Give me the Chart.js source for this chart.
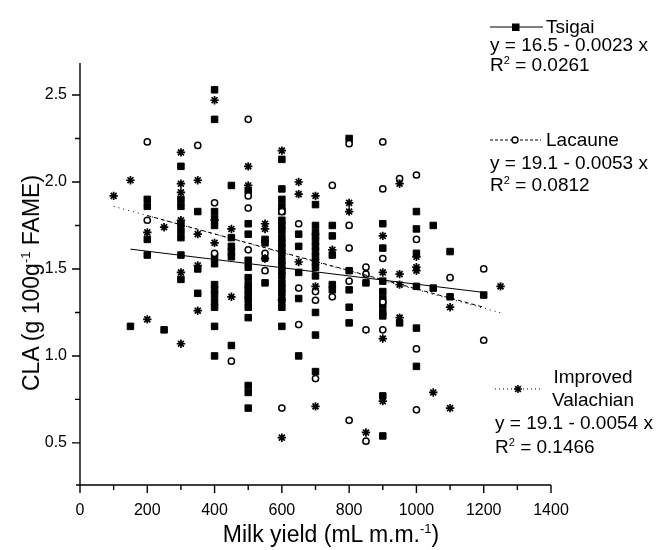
<!DOCTYPE html>
<html>
<head>
<meta charset="utf-8">
<script src="https://cdn.jsdelivr.net/npm/chart.js@4.4.0/dist/chart.umd.min.js"></script>
<style>
  body { margin: 0; background: #fff; }
  #wrap { position: relative; width: 657px; height: 550px; font-family: "Liberation Sans", Arial, sans-serif; color: #000; }
  #c { position: absolute; left: 0; top: 0; }
  .lg { position: absolute; font-size: 19px; line-height: 20px; white-space: nowrap; }
  .lg sup { font-size: 11px; vertical-align: 0; position: relative; top: -7px; }
  .ttl { position: absolute; font-size: 23px; line-height: 26px; white-space: nowrap; transform: translate(-50%, -50%); }
  .ttl sup { font-size: 13px; vertical-align: 0; position: relative; top: -9px; }
  #ytitle { transform: translate(-50%, -50%) rotate(-90deg); }
</style>
</head>
<body>
<div id="wrap">
  <canvas id="c" width="657" height="550"></canvas>
  <div class="ttl" style="left:331px;top:536px">Milk yield (mL m.m.<sup>-1</sup>)</div>
  <div class="ttl" id="ytitle" style="left:33px;top:283px">CLA (g 100g<sup>-1</sup> FAME)</div>
  <div class="lg" style="left:546px;top:17px">Tsigai</div>
  <div class="lg" style="left:490px;top:35px">y = 16.5 - 0.0023 x</div>
  <div class="lg" style="left:490px;top:55px">R<sup>2</sup> = 0.0261</div>
  <div class="lg" style="left:546px;top:130px">Lacaune</div>
  <div class="lg" style="left:490px;top:153px">y = 19.1 - 0.0053 x</div>
  <div class="lg" style="left:490px;top:175px">R<sup>2</sup> = 0.0812</div>
  <div class="lg" style="left:551px;top:367px;width:84px;text-align:center">Improved</div>
  <div class="lg" style="left:551px;top:390px;width:84px;text-align:center">Valachian</div>
  <div class="lg" style="left:495px;top:413px">y = 19.1 - 0.0054 x</div>
  <div class="lg" style="left:495px;top:437px">R<sup>2</sup> = 0.1466</div>
</div>
<script>
// points [milk yield, CLA]
const tsigai = [
  [150,1.17],
  [200,1.90],[200,1.86],[200,1.67],[200,1.58],
  [250,1.15],
  [300,2.09],[300,1.90],[300,1.86],[300,1.76],[300,1.72],[300,1.68],[300,1.58],[300,1.44],
  [350,1.83],[350,1.50],[350,1.36],
  [400,2.53],[400,2.36],[400,1.83],[400,1.79],[400,1.75],[400,1.57],[400,1.53],[400,1.41],[400,1.38],[400,1.35],[400,1.31],[400,1.28],[400,1.17],[400,1.00],
  [450,1.98],[450,1.68],[450,1.63],[450,1.60],[450,1.57],[450,1.06],
  [500,1.95],[500,1.76],[500,1.70],[500,1.55],[500,1.51],[500,1.45],[500,1.41],[500,1.38],[500,1.35],[500,1.32],[500,1.28],[500,1.22],[500,0.83],[500,0.79],[500,0.70],
  [550,1.67],[550,1.65],[550,1.42],
  [600,2.13],[600,1.96],[600,1.90],[600,1.86],[600,1.83],[600,1.78],[600,1.75],[600,1.72],[600,1.68],[600,1.65],[600,1.62],[600,1.59],[600,1.55],[600,1.52],[600,1.49],[600,1.46],[600,1.42],[600,1.39],[600,1.36],[600,1.32],[600,1.28],[600,1.17],
  [650,1.70],[650,1.63],[650,1.48],[650,1.33],[650,1.00],
  [700,1.87],[700,1.75],[700,1.71],[700,1.69],[700,1.66],[700,1.63],[700,1.60],[700,1.57],[700,1.54],[700,1.51],[700,1.46],[700,1.25],[700,1.12],[700,0.91],
  [750,1.75],[750,1.69],[750,1.58],[750,1.41],[750,1.38],
  [800,2.25],[800,1.49],[800,1.38],[800,1.28],[800,1.19],
  [850,1.42],
  [900,1.76],[900,1.62],[900,1.43],[900,1.37],[900,1.33],[900,1.29],[900,1.25],[900,1.23],[900,0.77],[900,0.54],
  [950,1.19],
  [1000,1.83],[1000,1.73],[1000,1.59],[1000,1.40],[1000,1.16],[1000,0.94],
  [1050,1.75],[1050,1.39],
  [1100,1.60],[1100,1.34],
  [1200,1.35]
];
const lacaune = [
  [200,2.23],[200,1.78],
  [350,2.21],
  [400,1.88],[400,1.59],
  [450,0.97],
  [500,2.36],[500,1.92],[500,1.85],[500,1.61],
  [550,1.59],[550,1.56],[550,1.49],
  [600,1.83],[600,0.70],
  [650,1.76],[650,1.39],[650,1.18],
  [700,1.37],[700,1.32],[700,0.87],
  [750,1.98],[750,1.34],
  [800,2.22],[800,1.75],[800,1.62],[800,1.43],[800,0.63],
  [850,1.51],[850,1.47],[850,1.15],[850,0.51],
  [900,2.23],[900,1.96],[900,1.56],[900,1.31],[900,1.15],
  [950,2.02],
  [1000,2.04],[1000,1.67],[1000,1.04],[1000,0.69],
  [1100,1.45],
  [1200,1.50],[1200,1.09]
];
const valachian = [
  [100,1.92],
  [150,2.01],
  [200,1.71],[200,1.21],
  [250,1.74],
  [300,2.17],[300,1.99],[300,1.94],[300,1.78],[300,1.48],[300,1.07],
  [350,2.01],[350,1.70],[350,1.52],[350,1.26],
  [400,2.47],[400,1.78],[400,1.65],
  [450,1.73],[450,1.34],
  [500,2.09],[500,1.98],
  [550,1.76],[550,1.73],[550,1.56],
  [600,2.18],[600,1.32],[600,0.53],
  [650,2.00],[650,1.93],[650,1.54],
  [700,1.92],[700,1.40],[700,0.71],
  [750,1.61],
  [800,1.88],[800,1.83],
  [850,0.56],
  [900,1.69],[900,1.48],[900,1.10],[900,0.74],
  [950,1.99],[950,1.47],[950,1.41],[950,1.22],
  [1000,1.57],[1000,1.51],[1000,1.49],
  [1050,0.79],
  [1100,1.28],[1100,0.70],
  [1250,1.40]
];
// fitted lines, ends
const tsigaiFit = [[150,1.614],[1200,1.365]];
const lacauneFit = [[200,1.807],[1200,1.280]];
const valachianFit = [[100,1.860],[1250,1.248]];

const xMinorTicks = [0,100,200,300,400,500,600,700,800,900,1000,1100,1200,1300,1400];
const yMinorTicks = [0.5,0.75,1.0,1.25,1.5,1.75,2.0,2.25,2.5];

function pts(arr) {
  return arr.map(function(p) { return {x: p[0], y: p[1]}; });
}

Chart.defaults.font.family = '"Liberation Sans", Arial, sans-serif';
Chart.defaults.color = '#000';

// axis lines, tick marks and the legend keys
const extras = {
  id: 'extras',
  afterDraw(chart) {
    const ctx = chart.ctx, a = chart.chartArea;
    const xs = chart.scales.x, ys = chart.scales.y;
    ctx.save();
    ctx.strokeStyle = '#000';
    ctx.lineWidth = 1.4;
    ctx.beginPath();
    ctx.moveTo(a.left - 4, a.bottom); ctx.lineTo(a.right, a.bottom);
    ctx.moveTo(a.left, a.top); ctx.lineTo(a.left, a.bottom);
    xMinorTicks.forEach(function(v) {
      const px = xs.getPixelForValue(v);
      const len = v % 200 === 0 ? 8 : 5;
      ctx.moveTo(px, a.bottom); ctx.lineTo(px, a.bottom + len);
    });
    yMinorTicks.forEach(function(v) {
      const py = ys.getPixelForValue(v);
      const len = Math.abs(v * 2 - Math.round(v * 2)) < 1e-6 ? 8 : 5;
      ctx.moveTo(a.left - len, py); ctx.lineTo(a.left, py);
    });
    ctx.stroke();

    // legend keys
    ctx.lineWidth = 1;
    ctx.beginPath();
    ctx.moveTo(490, 27); ctx.lineTo(543, 27);
    ctx.stroke();
    ctx.fillStyle = '#000';
    ctx.fillRect(512, 23.5, 7.5, 7.5);

    ctx.setLineDash([3, 2]);
    ctx.beginPath();
    ctx.moveTo(490, 140); ctx.lineTo(541, 140);
    ctx.stroke();
    ctx.setLineDash([]);
    ctx.fillStyle = '#fff';
    ctx.lineWidth = 1.4;
    ctx.beginPath();
    ctx.arc(515, 140, 3, 0, Math.PI * 2);
    ctx.fill(); ctx.stroke();

    ctx.lineWidth = 1;
    ctx.setLineDash([1, 3]);
    ctx.beginPath();
    ctx.moveTo(495, 389); ctx.lineTo(540, 389);
    ctx.stroke();
    ctx.setLineDash([]);
    ctx.lineWidth = 1.6;
    ctx.beginPath();
    for (let k = 0; k < 4; k++) {
      const ang = k * Math.PI / 4;
      ctx.moveTo(518 - 4 * Math.cos(ang), 389 - 4 * Math.sin(ang));
      ctx.lineTo(518 + 4 * Math.cos(ang), 389 + 4 * Math.sin(ang));
    }
    ctx.stroke();
    ctx.restore();
  }
};

new Chart(document.getElementById('c'), {
  type: 'scatter',
  data: {
    datasets: [
      { data: pts(tsigaiFit), showLine: true, pointRadius: 0, borderColor: '#000', borderWidth: 1, order: 0 },
      { data: pts(lacauneFit), showLine: true, pointRadius: 0, borderColor: '#000', borderWidth: 1, borderDash: [4, 3], order: 0 },
      { data: pts(valachianFit), showLine: true, pointRadius: 0, borderColor: '#000', borderWidth: 1, borderDash: [1, 4], order: 0 },
      { label: 'Improved Valachian', data: pts(valachian), pointStyle: 'star', pointRadius: 4.2, borderColor: '#000', borderWidth: 1.7, order: 1 },
      { label: 'Lacaune', data: pts(lacaune), pointStyle: 'circle', pointRadius: 3.1, backgroundColor: '#fff', borderColor: '#000', borderWidth: 1.5, order: 2 },
      { label: 'Tsigai', data: pts(tsigai), pointStyle: 'rect', pointRadius: 4.6, backgroundColor: '#000', borderColor: '#000', borderWidth: 1, order: 3 }
    ]
  },
  options: {
    responsive: false,
    animation: false,
    events: [],
    layout: { padding: { left: 0, top: 63, right: 106, bottom: 0 } },
    plugins: { legend: { display: false }, tooltip: { enabled: false } },
    scales: {
      x: {
        type: 'linear', min: 0, max: 1400,
        afterFit(s) { s.height = 65; },
        border: { display: false },
        grid: { display: false, drawTicks: false },
        ticks: { stepSize: 200, padding: 16, maxRotation: 0, autoSkip: false, font: { size: 16 },
          callback: function(v) { return String(v); } }
      },
      y: {
        type: 'linear', min: 0.258, max: 2.684,
        afterFit(s) { s.width = 80; },
        border: { display: false },
        grid: { display: false, drawTicks: false },
        ticks: { stepSize: 0.5, includeBounds: false, padding: 13, font: { size: 16 },
          callback: function(v) { return v.toFixed(1); } }
      }
    }
  },
  plugins: [extras]
});
</script>
</body>
</html>
